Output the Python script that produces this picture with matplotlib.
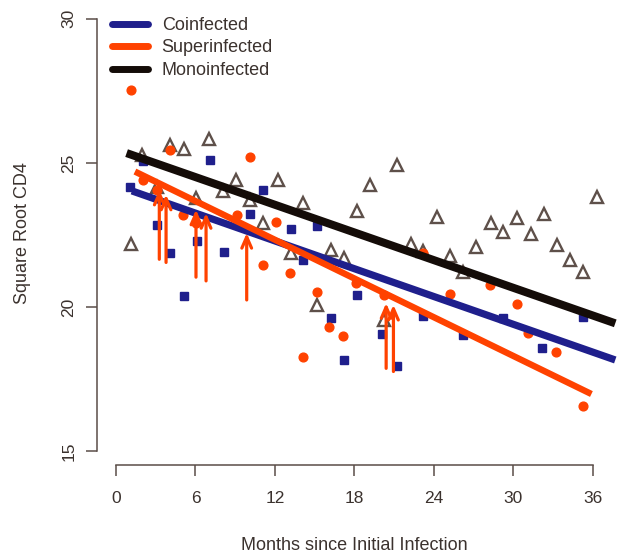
# CD4 decline by infection group, redrawn with matplotlib
import matplotlib
matplotlib.use('Agg')
import matplotlib.pyplot as plt
from matplotlib.lines import Line2D

# Colours
col_co = '#1f1f8c'
col_super = '#ff4200'
col_mono = '#140c08'
col_tri = '#5e504a'
col_text = '#3b322e'
col_axis = '#5a4d48'

# Monoinfected (open triangles)
mono_month = [1.1, 2.0, 3.07, 4.1, 5.1, 6.05, 7.05, 8.1, 9.06, 10.1, 11.1, 12.2,
              13.2, 14.15, 15.2, 16.2, 17.2, 18.2, 19.2, 20.2, 21.2, 22.25, 23.2,
              24.27, 25.2, 26.2, 27.2, 28.3, 29.25, 30.26, 31.3, 32.3, 33.3, 34.3,
              35.3, 36.3]
mono_cd4 = [22.18, 25.28, 24.18, 25.61, 25.49, 23.78, 25.83, 24.03, 24.42, 23.72,
            22.91, 24.42, 21.89, 23.62, 20.08, 21.99, 21.71, 23.34, 24.22, 19.56,
            24.92, 22.2, 21.96, 23.14, 21.78, 21.23, 22.1, 22.93, 22.59, 23.09,
            22.54, 23.23, 22.15, 21.64, 21.23, 23.82]

# Coinfected (blue squares)
co_month = [1.06, 2.06, 3.07, 4.1, 5.1, 6.1, 7.1, 8.15, 10.1, 11.1, 13.2, 14.15,
            15.2, 16.2, 17.2, 18.2, 20.06, 21.2, 23.2, 26.2, 29.25, 32.2, 35.3]
co_cd4 = [24.15, 25.06, 22.85, 21.89, 20.39, 22.28, 25.11, 21.91, 23.22, 24.05,
          22.72, 21.62, 22.8, 19.62, 18.18, 20.41, 19.06, 17.96, 19.7, 19.04,
          19.62, 18.58, 19.65]

# Superinfected (orange dots)
super_month = [1.1, 2.06, 3.1, 4.1, 5.05, 6.05, 9.1, 10.1, 11.1, 12.1, 13.15, 14.1,
               15.2, 16.1, 17.15, 18.15, 20.2, 23.2, 25.2, 28.25, 30.26, 31.1, 33.2,
               35.25]
super_cd4 = [27.54, 24.42, 24.07, 25.43, 23.19, 22.91, 23.18, 25.19, 21.47, 22.96,
             21.2, 18.27, 20.51, 19.31, 19.0, 20.84, 20.43, 21.87, 20.46, 20.77,
             20.11, 19.11, 18.46, 16.58]

# Superinfection events (vertical arrows): month, start, end
arrow_month = [3.27, 3.78, 6.04, 6.8, 9.87, 20.4, 20.95]
arrow_from = [21.66, 21.55, 21.04, 20.91, 20.25, 17.88, 17.77]
arrow_to = [24.07, 23.9, 23.38, 23.26, 22.57, 20.14, 20.08]

# Fitted lines (end points)
co_fit_x = [1.2, 37.7]
co_fit_y = [24.03, 18.17]
super_fit_x = [1.43, 35.9]
super_fit_y = [24.7, 16.99]
mono_fit_x = [0.8, 37.7]
mono_fit_y = [25.34, 19.44]

x_ticks = [0, 6, 12, 18, 24, 30, 36]
y_ticks = [15, 20, 25, 30]

plt.rcParams['font.family'] = ['Liberation Sans', 'DejaVu Sans']

fig = plt.figure(figsize=(6.26, 5.59), dpi=100)
ax = fig.add_axes([0.15495, 0.16816, 0.8355, 0.81038])

# Points
ax.plot(mono_month, mono_cd4, linestyle='none', marker='^', ms=8.2,
        mfc='none', mec=col_tri, mew=1.7, zorder=2)
ax.plot(co_month, co_cd4, linestyle='none', marker='s', ms=5.8,
        mfc=col_co, mec=col_co, zorder=2)
ax.plot(super_month, super_cd4, linestyle='none', marker='o', ms=6.3,
        mfc=col_super, mec=col_super, zorder=2)

# Fitted lines
ax.plot(co_fit_x, co_fit_y, color=col_co, lw=5.2, solid_capstyle='butt', zorder=3)
ax.plot(mono_fit_x, mono_fit_y, color=col_mono, lw=5.8, solid_capstyle='butt', zorder=3)
ax.plot(super_fit_x, super_fit_y, color=col_super, lw=4.6, solid_capstyle='butt', zorder=4)

# Arrows
for i in range(len(arrow_month)):
    ax.annotate('', xy=(arrow_month[i], arrow_to[i]),
                xytext=(arrow_month[i], arrow_from[i]),
                arrowprops=dict(arrowstyle='->,head_length=0.8,head_width=0.35',
                                color=col_super, lw=2.3, shrinkA=0, shrinkB=0),
                zorder=5)

# Axes in R style
ax.set_xlim(-1.435, 38.06)
ax.set_ylim(14.53, 30.23)
for side in ['top', 'right']:
    ax.spines[side].set_visible(False)
ax.spines['left'].set_bounds(15, 30)
ax.spines['bottom'].set_bounds(0, 36)
for side in ['left', 'bottom']:
    ax.spines[side].set_color(col_axis)
    ax.spines[side].set_linewidth(1.1)
ax.set_xticks(x_ticks)
ax.set_yticks(y_ticks)
ax.tick_params(axis='both', direction='out', length=8, width=1.1,
               color=col_axis, labelcolor=col_text, labelsize=12.5)
ax.tick_params(axis='x', pad=11)
ax.tick_params(axis='y', pad=7, labelrotation=90)
for lab in ax.get_yticklabels():
    lab.set_va('center')

ax.set_xlabel('Months since Initial Infection', fontsize=13, color=col_text, va='center')
ax.set_ylabel('Square Root CD4', fontsize=13, color=col_text, va='center')
ax.xaxis.set_label_coords(354.0 / 626, 13.0 / 559, transform=fig.transFigure)
ax.yaxis.set_label_coords(23.0 / 626, 1 - 233.0 / 559, transform=fig.transFigure)

# Legend
handles = [Line2D([], [], color=col_co, lw=5, solid_capstyle='round'),
           Line2D([], [], color=col_super, lw=5, solid_capstyle='round'),
           Line2D([], [], color=col_mono, lw=5, solid_capstyle='round')]
leg = ax.legend(handles, ['Coinfected', 'Superinfected', 'Monoinfected'],
                loc='upper left', bbox_to_anchor=(112.0 / 626, 1 - 17.0 / 559),
                bbox_transform=fig.transFigure, frameon=False, fontsize=13,
                handlelength=2.0, handletextpad=0.75, labelspacing=0.3,
                borderpad=0, borderaxespad=0)
for t in leg.get_texts():
    t.set_color(col_text)

fig.savefig('out.png', dpi=100)
